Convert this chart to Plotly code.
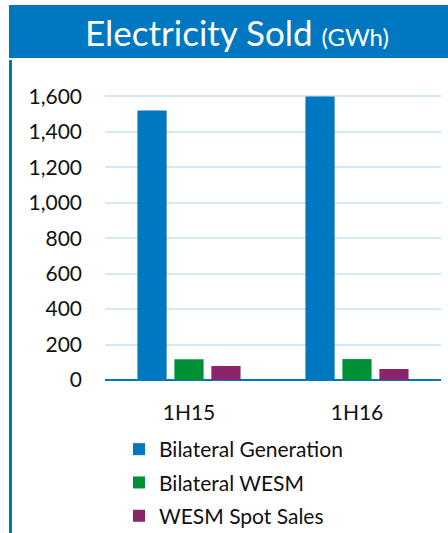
import plotly.graph_objects as go

categories = ["1H15", "1H16"]
bilateral_generation = [1520, 1600]
bilateral_wesm = [117, 118]
wesm_spot_sales = [79, 62]
series_names = ["Bilateral Generation", "Bilateral WESM", "WESM Spot Sales"]
colors = ["#0077C1", "#009136", "#8A256B"]
ytick_vals = [0, 200, 400, 600, 800, 1000, 1200, 1400, 1600, 1800]
ytick_text = ["0", "200", "400", "600", "800", "1,000", "1,200", "1,400", "1,600", ""]

W, H = 448, 533
L, R, T, B = 105, 7, 61, 153
pw, ph = W - L - R, H - T - B

def px_x(x):
    return (x - L) / pw

def px_y(y):
    return (H - B - y) / ph

fig = go.Figure()
for name, vals, col in zip(series_names, [bilateral_generation, bilateral_wesm, wesm_spot_sales], colors):
    fig.add_trace(go.Bar(x=categories, y=vals, name=name, marker_color=col,
                         marker_line_width=0, legendgroup=name))

font_family = "Lato, 'Open Sans', sans-serif"
fig.update_layout(
    width=W, height=H,
    margin=dict(l=L, r=R, t=T, b=B, autoexpand=False),
    paper_bgcolor="white", plot_bgcolor="white",
    barmode="group", bargap=0.34, bargroupgap=0.21,
    font=dict(family=font_family, size=21, color="#111111"),
    xaxis=dict(showgrid=False, showline=False, ticks="", tickfont=dict(size=21),
               ticklabelstandoff=18),
    yaxis=dict(range=[0, 1800], tickvals=ytick_vals, ticktext=ytick_text,
               showgrid=True, gridcolor="#D5E8F5", gridwidth=2,
               zeroline=True, zerolinecolor="#0077C1", zerolinewidth=2,
               showline=False, ticks="", tickfont=dict(size=21),
               ticklabelstandoff=22),
    legend=dict(x=px_x(119), y=px_y(429), xanchor="left", yanchor="top",
                font=dict(size=21), tracegroupgap=3, itemwidth=30,
                bgcolor="rgba(0,0,0,0)"),
    showlegend=True,
    shapes=[
        dict(type="rect", xref="paper", yref="paper",
             x0=px_x(9), x1=px_x(449), y0=px_y(58), y1=px_y(5),
             fillcolor="#0077C1", line_width=0, layer="below"),
        dict(type="line", xref="paper", yref="paper",
             x0=px_x(10.5), x1=px_x(10.5), y0=px_y(60), y1=px_y(534),
             line=dict(color="#0077C1", width=3)),
    ],
    annotations=[
        dict(xref="paper", yref="paper", x=px_x(237), y=px_y(32),
             xanchor="center", yanchor="middle", showarrow=False,
             text="Electricity Sold <span style='font-size:24px'>(GWh)</span>",
             font=dict(size=35, color="white", family=font_family)),
    ],
)

fig.write_html("out.html")
